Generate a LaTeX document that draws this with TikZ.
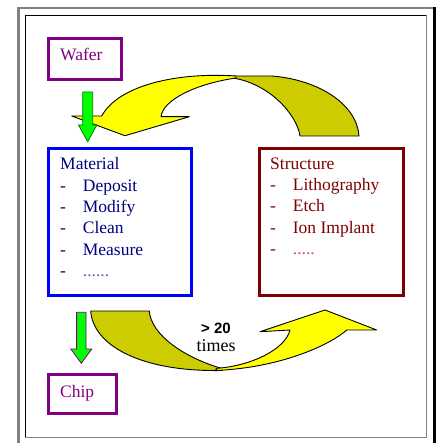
\documentclass[tikz,border=0pt]{standalone}
\usepackage{fontspec}
\setmainfont{Liberation Serif}
\setsansfont{Liberation Sans}
\usetikzlibrary{positioning,calc}
\definecolor{wafpurple}{RGB}{128,0,128}
\definecolor{matblue}{RGB}{0,0,255}
\definecolor{matink}{RGB}{0,0,128}
\definecolor{matdots}{RGB}{90,90,230}
\definecolor{strred}{RGB}{128,0,0}
\definecolor{strdots}{RGB}{205,80,80}
\definecolor{loopyellow}{RGB}{255,255,0}
\definecolor{loopolive}{RGB}{204,204,0}
\definecolor{flowgreen}{RGB}{0,255,0}
\definecolor{flowdark}{RGB}{0,128,0}
\definecolor{framegray}{RGB}{128,128,128}
% block arrow: start, tip, head length, shaft half width, head half width, outline
\newcommand{\flowarrow}[6]{%
  \draw[blockarrow,draw=#6] ($(#1)+(-#4,0)$) -- ($(#2)+(-#4,-#3)$) -- ($(#2)+(-#5,-#3)$)
    -- (#2) -- ($(#2)+(#5,-#3)$) -- ($(#2)+(#4,-#3)$) -- ($(#1)+(#4,0)$) -- cycle;}
\tikzset{
  endbox/.style={rectangle,draw=wafpurple,line width=3pt,inner sep=0pt},
  stepbox/.style={rectangle,line width=3pt,inner sep=0pt,minimum height=146.7pt},
  boxtext/.style={anchor=base west,inner sep=0pt,font=\fontsize{17.5}{21.3}\selectfont},
  ribbon/.style={draw=black,line width=0.9pt,line join=round},
  blockarrow/.style={fill=flowgreen,line width=0.8pt,line join=miter},
  framerule/.style={line width=#1}
}

\begin{document}
\begin{tikzpicture}[x=1pt,y=-1pt]
  \useasboundingbox (0,0) rectangle (441,443);
  % frame
  \draw[framerule=2pt,framegray] (17,8) -- (436,8);
  \draw[framerule=3pt,framegray] (18.6,7) -- (18.6,443);
  \draw[framerule=3pt,black] (434.5,7) -- (434.5,443);
  \draw[framerule=1pt,black] (25,15.5) -- (427,15.5);
  \draw[framerule=1pt,black] (25.5,15) -- (25.5,438);
  \draw[framerule=1.3pt,framegray] (426.8,15) -- (426.8,438.2);
  \draw[framerule=1.3pt,framegray] (25,437.6) -- (427.4,437.6);

  % boxes
  \node[stepbox,draw=matblue,minimum width=143pt] (mat) at (120.3,222.15) {};
  \node[stepbox,draw=strred,minimum width=144pt,right=64.7pt of mat] (str) {};
  \node[endbox,minimum width=73pt,minimum height=40.7pt,above=66.3pt of mat.north west,anchor=south west] (waf) {};
  \node[endbox,minimum width=67.4pt,minimum height=39pt,below=76.3pt of mat.south west,anchor=north west] (chip) {};

  % texts
  \node[boxtext,text=wafpurple] (waftxt) at ($(waf.north west)+(12.7,23.4)$) {Wafer};
  \node[boxtext,text=wafpurple] (chiptxt) at ($(chip.north west)+(12.7,24)$) {Chip};
  \node[boxtext,text=matink] (matlist) at ($(mat.north west)+(12.7,22.7)$) {%
    \begin{tabular}[t]{@{}p{22.7pt}@{}l@{}}
      \multicolumn{2}{@{}l@{}}{Material}\\
      -&Deposit\\
      -&Modify\\
      -&Clean\\
      -&Measure\\
      -&\textcolor{matdots}{......}
    \end{tabular}};
  \node[boxtext,text=strred] (strlist) at ($(str.north west)+(12,22)$) {%
    \begin{tabular}[t]{@{}p{22.7pt}@{}l@{}}
      \multicolumn{2}{@{}l@{}}{Structure}\\
      -&Lithography\\
      -&Etch\\
      -&Ion Implant\\
      -&\textcolor{strdots}{.....}
    \end{tabular}};
  \node[anchor=base,inner sep=0pt,font=\fontsize{18}{18.4}\selectfont] (reps) at (216,333.3) {%
    \begin{tabular}[t]{@{}c@{}}
      {\sffamily\bfseries\fontsize{15}{18}\selectfont > 20}\\
      times
    \end{tabular}};

  % return loop, top
  \draw[ribbon,fill=loopolive] (233,76) -- (272,76) .. controls (320,80) and (357,105) .. (359,136)
    -- (300,136) .. controls (297,115) and (270,84) .. (233,78) -- cycle;
  \draw[ribbon,fill=loopyellow] (236,76) .. controls (175,72) and (118,86) .. (101.7,116)
    -- (71.7,116) -- (125,135.7) -- (189.3,116.7) -- (161,116.7)
    .. controls (163,100) and (195,84) .. (236,78) -- cycle;

  % forward loop, bottom
  \draw[ribbon,fill=loopolive] (90.7,311) -- (149.3,311) .. controls (151,335) and (185,358) .. (222,368.5)
    -- (222,370.5) .. controls (140,372) and (93,345) .. (90.7,311) -- cycle;
  \draw[ribbon,fill=loopyellow] (215,370.5) .. controls (280,368) and (330,345) .. (346.7,330)
    -- (376.7,330) -- (325,310) -- (260,331.7) -- (290,330)
    .. controls (285,350) and (250,366) .. (217,368.3) -- cycle;

  % flow arrows
  \coordinate (g1s) at ($(waf.south west)+(40.4,11)$);
  \coordinate (g1e) at ($(mat.north west)+(40.4,-5.6)$);
  \coordinate (g2s) at ($(mat.south west)+(34,15.3)$);
  \coordinate (g2e) at ($(chip.north west)+(34,-10)$);
  \flowarrow{g1s}{g1e}{16.7}{5}{9.2}{flowdark}
  \flowarrow{g2s}{g2e}{14.3}{4.7}{10.5}{wafpurple}
\end{tikzpicture}
\end{document}
